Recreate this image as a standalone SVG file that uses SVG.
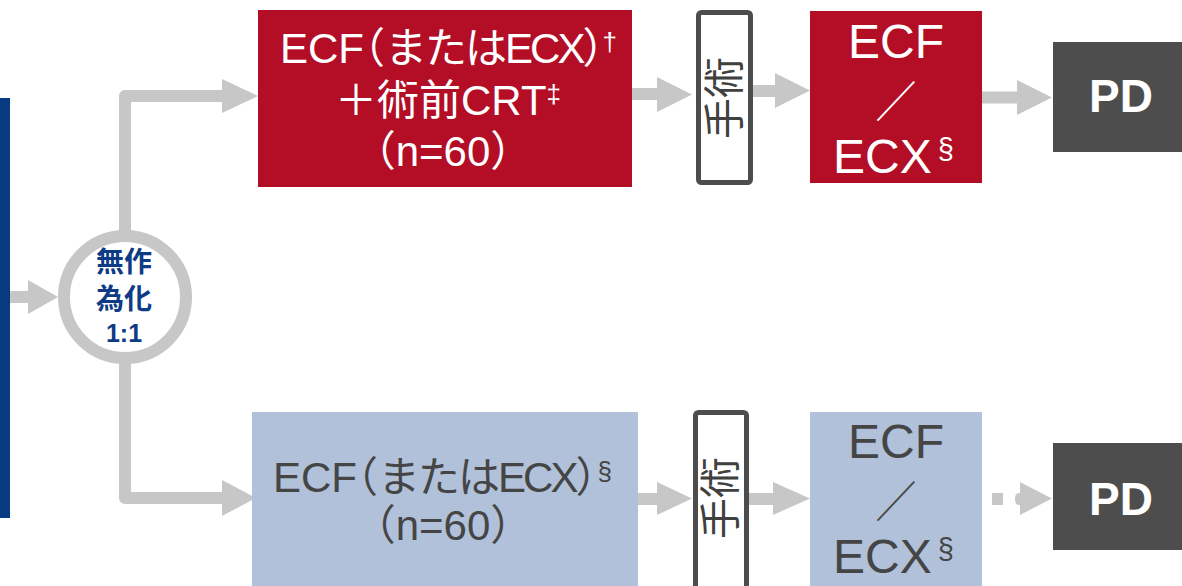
<svg xmlns="http://www.w3.org/2000/svg" width="1182" height="586" viewBox="0 0 1182 586">
<defs>
<style>
.t{font-family:'Liberation Sans','Noto Sans CJK JP',sans-serif;}
.w{fill:#fff}
.g{fill:#454545}
.arr{fill:#C7C7C7}
.sh{stroke:#C7C7C7;stroke-width:12;fill:none;stroke-linejoin:round}
.red{fill:#B40D26}
.blue{fill:#B0C1D9}
.pd{fill:#4D4D4D}
.surg{fill:#fff;stroke:#4D4D4D;stroke-width:5}
.st{font-size:41px;fill:#404040;text-anchor:middle;dominant-baseline:central}
.pdt{font-size:46px;font-weight:bold;fill:#fff;text-anchor:middle}
.big{font-size:42px}
.box2{font-size:48px}
.mid{text-anchor:middle}
.kana{letter-spacing:-2px}
.ecx{letter-spacing:-3px}
.sup{font-size:26px}
.rnd{font-weight:bold;fill:#0D3B86;text-anchor:middle}
</style>
</defs>
<rect width="1182" height="586" fill="#fff"/>

<g id="connectors">
  <path class="sh" d="M10,297 H30"/>
  <polygon class="arr" points="28,280 58,297 28,314"/>
  <path class="sh" d="M125,236 V96 H224"/>
  <polygon class="arr" points="222,79 258,96 222,113"/>
  <path class="sh" d="M125,358 V498 H224"/>
  <polygon class="arr" points="222,480 256,498 222,516"/>
  <path class="sh" d="M632,94 H659"/>
  <polygon class="arr" points="657,77 692,94.5 657,112"/>
  <path class="sh" d="M753,91 H777"/>
  <polygon class="arr" points="775,73 810,90.5 775,108"/>
  <path class="sh" d="M982,97.5 H1019"/>
  <polygon class="arr" points="1017,80 1052,97.5 1017,115"/>
  <path class="sh" d="M638,499 H659"/>
  <polygon class="arr" points="657,482 692,498.5 657,515"/>
  <path class="sh" d="M749,499 H775"/>
  <polygon class="arr" points="773,482 810,498.5 773,515"/>
  <rect class="arr" x="992" y="493" width="11" height="12"/>
  <path class="arr" d="M1021,493 H1019 Q1015,493 1015,499 Q1015,505 1019,505 H1021 Z"/>
  <polygon class="arr" points="1020,482 1052,498.5 1020,515"/>
</g>

<g id="source-bar">
  <rect x="0" y="98" width="10" height="420" fill="#083A81"/>
</g>

<g id="randomize">
  <circle cx="125" cy="297" r="61" fill="#fff" stroke="#C7C7C7" stroke-width="12"/>
  <text class="t rnd" x="124" y="272" font-size="28">無作</text>
  <text class="t rnd" x="124" y="309" font-size="28">為化</text>
  <text class="t rnd" x="124" y="342" font-size="25">1:1</text>
</g>

<g id="arm-a">
  <rect class="red" x="258" y="10" width="374" height="177"/>
  <text class="t w big" x="280" y="63">ECF<tspan dx="-21">（</tspan><tspan class="kana">または</tspan><tspan class="ecx">ECX</tspan>）<tspan class="sup" dx="-22" dy="-12">†</tspan></text>
  <text class="t w big mid" x="448" y="115">＋術前CRT<tspan class="sup" dy="-12">‡</tspan></text>
  <text class="t w big mid" x="443" y="166">（n=60）</text>
</g>

<g id="surgery-a">
  <rect class="surg" x="698.5" y="12.5" width="52" height="170" rx="3"/>
  <text class="t st" x="725" y="98" transform="rotate(-90 725 98)">手術</text>
</g>

<g id="result-a">
  <rect class="red" x="810" y="11" width="172" height="172"/>
  <text class="t w box2 mid" x="896" y="58">ECF</text>
  <text class="t w box2 mid" transform="translate(896 118) scale(0.85 0.9)">／</text>
  <text class="t w box2" x="833" y="173">ECX<tspan dx="6" dy="-14" font-size="29">§</tspan></text>
</g>

<g id="pd-a">
  <rect class="pd" x="1053" y="42" width="135" height="110"/>
  <text class="t pdt" x="1121" y="112">PD</text>
</g>

<g id="arm-b">
  <rect class="blue" x="252" y="412" width="386" height="180"/>
  <text class="t g big" x="273" y="492">ECF<tspan dx="-21">（</tspan><tspan class="kana">または</tspan><tspan class="ecx">ECX</tspan>）<tspan class="sup" dx="-20" dy="-12">§</tspan></text>
  <text class="t g big mid" x="443" y="540">（n=60）</text>
</g>

<g id="surgery-b">
  <rect class="surg" x="695.5" y="412.5" width="51" height="180" rx="3"/>
  <text class="t st" x="721" y="498" transform="rotate(-90 721 498)">手術</text>
</g>

<g id="result-b">
  <rect class="blue" x="810" y="412" width="172" height="180"/>
  <text class="t g box2 mid" x="896" y="458">ECF</text>
  <text class="t g box2 mid" transform="translate(896 518) scale(0.85 0.9)">／</text>
  <text class="t g box2" x="833" y="573">ECX<tspan dx="6" dy="-14" font-size="29">§</tspan></text>
</g>

<g id="pd-b">
  <rect class="pd" x="1053" y="443" width="135" height="107"/>
  <text class="t pdt" x="1121" y="515">PD</text>
</g>
</svg>
